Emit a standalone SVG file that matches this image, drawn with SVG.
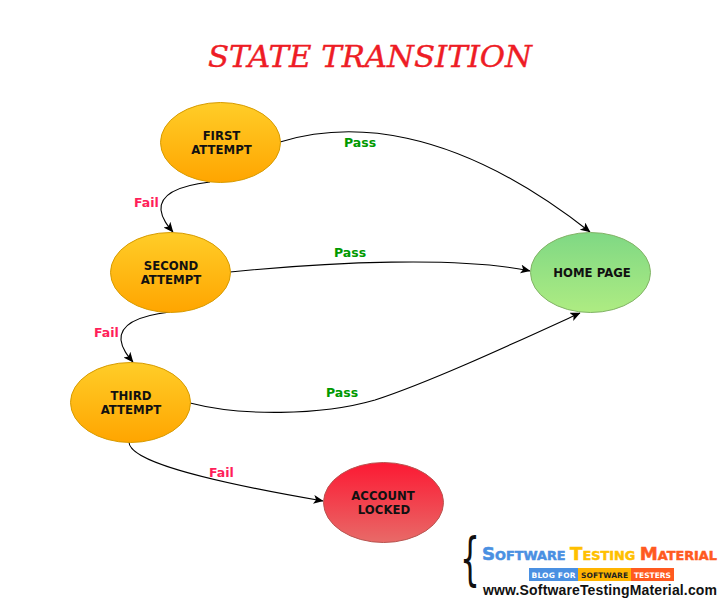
<svg xmlns="http://www.w3.org/2000/svg" width="726" height="606" viewBox="0 0 726 606">
<style>
.n{font:bold 11.7px "DejaVu Sans",Verdana,sans-serif;fill:#111;text-anchor:middle}
.e{fill:none;stroke:#000;stroke-width:1.1}
.p{font:bold 12.5px "DejaVu Sans",sans-serif;fill:#009900}
.f{font:bold 12.5px "DejaVu Sans",sans-serif;fill:#ff1f5a}
.o{stroke:#d79b00;stroke-width:1}
.logo{font-family:"DejaVu Sans",sans-serif;font-weight:bold}
</style>
<defs>
<linearGradient id="go" x1="0" y1="0" x2="0" y2="1"><stop offset="0" stop-color="#ffcd28"/><stop offset="1" stop-color="#ffa500"/></linearGradient>
<linearGradient id="gg" x1="0" y1="0" x2="0" y2="1"><stop offset="0" stop-color="#7fd884"/><stop offset="1" stop-color="#aeec82"/></linearGradient>
<linearGradient id="gr" x1="0" y1="0" x2="0" y2="1"><stop offset="0" stop-color="#fc1933"/><stop offset="1" stop-color="#e86a68"/></linearGradient>
<marker id="a" markerWidth="11" markerHeight="10" refX="9.500" refY="4.500" orient="auto" markerUnits="userSpaceOnUse"><path d="M0 0L10 4.500L0 9L2.500 4.500Z" fill="#000"/></marker>
</defs>
<rect width="726" height="606" fill="#fff"/>
<text x="370" y="67" text-anchor="middle" font-family="'DejaVu Serif',serif" font-style="italic" font-size="30" fill="#ee1c25" stroke="#ee1c25" stroke-width="0.4" textLength="324" lengthAdjust="spacingAndGlyphs">STATE TRANSITION</text>
<g id="connectors">
<path class="e" marker-end="url(#a)" d="M280 142C345 122 450 122 590 232"/>
<path class="e" marker-end="url(#a)" d="M230 272C330 262 460 256 530 271"/>
<path class="e" marker-end="url(#a)" d="M190 403C240 416 320 416 375 400C430 382 510 345 580 313"/>
<path class="e" marker-end="url(#a)" d="M210 182C175 186 160 196 161 210C162 219 168 226 173 232"/>
<path class="e" marker-end="url(#a)" d="M170 312C135 316 120 326 121 340C122 349 128 356 133 362"/>
<path class="e" marker-end="url(#a)" d="M129 442C129 460 195 479 323 501"/>
</g>
<g id="first"><ellipse class="o" cx="220.500" cy="142.500" rx="60" ry="40" fill="url(#go)"/><text class="n" x="221.500" y="140">FIRST</text><text class="n" x="221.500" y="154">ATTEMPT</text></g>
<g id="second"><ellipse class="o" cx="170.500" cy="272.500" rx="60" ry="40" fill="url(#go)"/><text class="n" x="171" y="270">SECOND</text><text class="n" x="171" y="284">ATTEMPT</text></g>
<g id="third"><ellipse class="o" cx="130.500" cy="402.500" rx="60" ry="40" fill="url(#go)"/><text class="n" x="131" y="400">THIRD</text><text class="n" x="131" y="414">ATTEMPT</text></g>
<g id="home"><ellipse cx="590.500" cy="272.500" rx="60" ry="40" fill="url(#gg)" stroke="#82b366"/><text class="n" x="592" y="277">HOME PAGE</text></g>
<g id="locked"><ellipse cx="383.500" cy="502.500" rx="60" ry="40" fill="url(#gr)" stroke="#b85450"/><text class="n" x="383" y="500">ACCOUNT</text><text class="n" x="384" y="514">LOCKED</text></g>
<text class="f" x="134" y="207">Fail</text>
<text class="f" x="94" y="337">Fail</text>
<text class="f" x="209" y="477">Fail</text>
<text class="p" x="344" y="147">Pass</text>
<text class="p" x="334" y="257">Pass</text>
<text class="p" x="326" y="397">Pass</text>
<g id="logo">
<text font-family="'DejaVu Sans',sans-serif" font-size="57" fill="#111" transform="translate(460 578) scale(0.55 1)">{</text>
<text class="logo" x="482" y="560" font-size="17" fill="#4a90e2" stroke-width="0.5" textLength="235" lengthAdjust="spacingAndGlyphs"><tspan stroke="#4a90e2">S</tspan><tspan stroke="#4a90e2" font-size="12">OFTWARE </tspan><tspan fill="#ffc000" stroke="#ffc000">T</tspan><tspan fill="#ffc000" stroke="#ffc000" font-size="12">ESTING </tspan><tspan fill="#ff5a1f" stroke="#ff5a1f">M</tspan><tspan fill="#ff5a1f" stroke="#ff5a1f" font-size="12">ATERIAL</tspan></text>
<rect x="529" y="568" width="49" height="13" fill="#4a90e2"/><rect x="578" y="568" width="53" height="13" fill="#ffb400"/><rect x="631" y="568" width="43" height="13" fill="#ff5a1f"/>
<text class="logo" x="531.500" y="578" font-size="7.500" fill="#fff" textLength="44">BLOG FOR</text>
<text class="logo" x="581" y="578" font-size="7.500" fill="#222" textLength="47">SOFTWARE</text>
<text class="logo" x="634" y="578" font-size="7.500" fill="#fff" textLength="37">TESTERS</text>
<text x="483" y="595" font-family="'Liberation Sans',Arial,sans-serif" font-weight="bold" font-size="14" fill="#111" textLength="234" lengthAdjust="spacing">www.SoftwareTestingMaterial.com</text>
</g>
</svg>
